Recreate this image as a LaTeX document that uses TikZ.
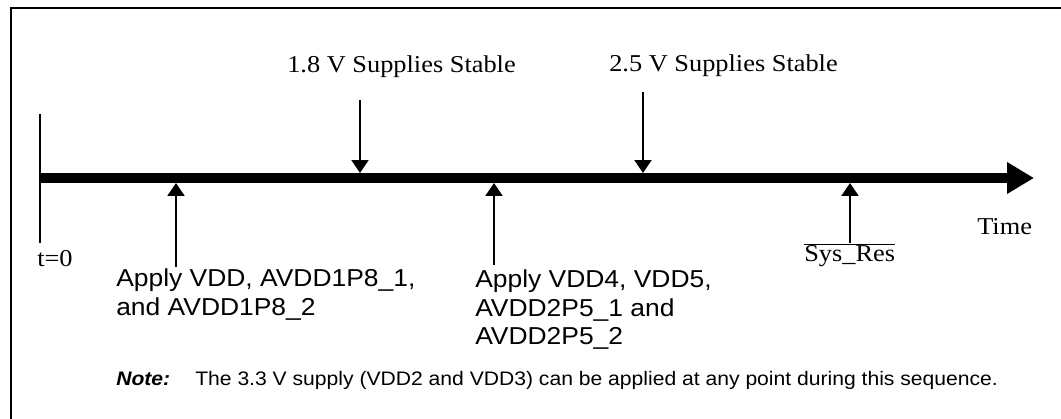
\documentclass[tikz,border=0pt]{standalone}
\usepackage{fontspec}
\setmainfont{Liberation Serif}[FakeStretch=1.09]
\newfontfamily\lblfont{Liberation Sans}[FakeStretch=1.08]
\usepackage{tikz}
\usetikzlibrary{arrows.meta}

\tikzset{
  timefont/.style={font=\fontsize{17.2}{19}\selectfont, inner sep=0pt, anchor=base west},
  applyfont/.style={font=\lblfont\fontsize{17.4}{20.4}\selectfont, inner sep=0pt, anchor=base west, align=left},
  notefont/.style={font=\lblfont\fontsize{13.9}{16}\selectfont, inner sep=0pt, anchor=base west},
  evt/.style={line width=1.4pt, -{Triangle[length=0.32cm, width=0.42cm]}},
}

\begin{document}
\begin{tikzpicture}[x=0.025cm, y=-0.025cm]
    \useasboundingbox (0, 0) rectangle (1061, 419);
    \draw[line width=1.45pt] (1070, 8) -- (11, 8) -- (11, 430);
% time axis
\coordinate (t0) at (40, 178);
\coordinate (tend) at (1034, 178);
\draw[line width=7.3pt, -{Triangle[length=0.675cm, width=0.75cm]}] (t0) -- (tend);
\coordinate (tick top) at (40, 114);
\coordinate (tick bot) at (40, 243);
\draw[line width=1.45pt] (tick top) -- (tick bot);
\node[timefont] (tzero) at (37, 267) {t=0};
\node[timefont] (time) at (977, 235) {Time};
% events under the axis (base = last line)
\coordinate (vdd on) at (176, 183);
\coordinate (vdd4 on) at (494, 183);
\coordinate (rst on) at (850, 183);
\node[applyfont] (apply1) at (116, 315.5) {Apply VDD, AVDD1P8\_1,\\and AVDD1P8\_2};
\node[applyfont] (apply2) at (475, 345) {Apply VDD4, VDD5,\\AVDD2P5\_1 and\\AVDD2P5\_2};
\node[timefont] (sysres) at (804, 262) {$\overline{\mbox{Sys\_Res}}$};
\draw[evt] (176, 267) coordinate (a1) -- (vdd on);
\draw[evt] (494, 265) coordinate (a2) -- (vdd4 on);
\draw[evt] (sysres.north -| rst on) -- (rst on);
% events over the axis
\node[timefont] (st18) at (287, 73) {1.8 V Supplies Stable};
\node[timefont] (st25) at (609, 72) {2.5 V Supplies Stable};
\coordinate (st18 in) at (360, 173);
\coordinate (st25 in) at (643, 173);
\draw[evt] (360, 100) coordinate (d1) -- (st18 in);
\draw[evt] (643, 92) coordinate (d2) -- (st25 in);
% note
\node[notefont] (notehd) at (116, 386) {\bfseries\itshape Note:};
\node[notefont] (notetxt) at (195, 386) {The 3.3 V supply (VDD2 and VDD3) can be applied at any point during this sequence.};
    \end{tikzpicture}
\end{document}
